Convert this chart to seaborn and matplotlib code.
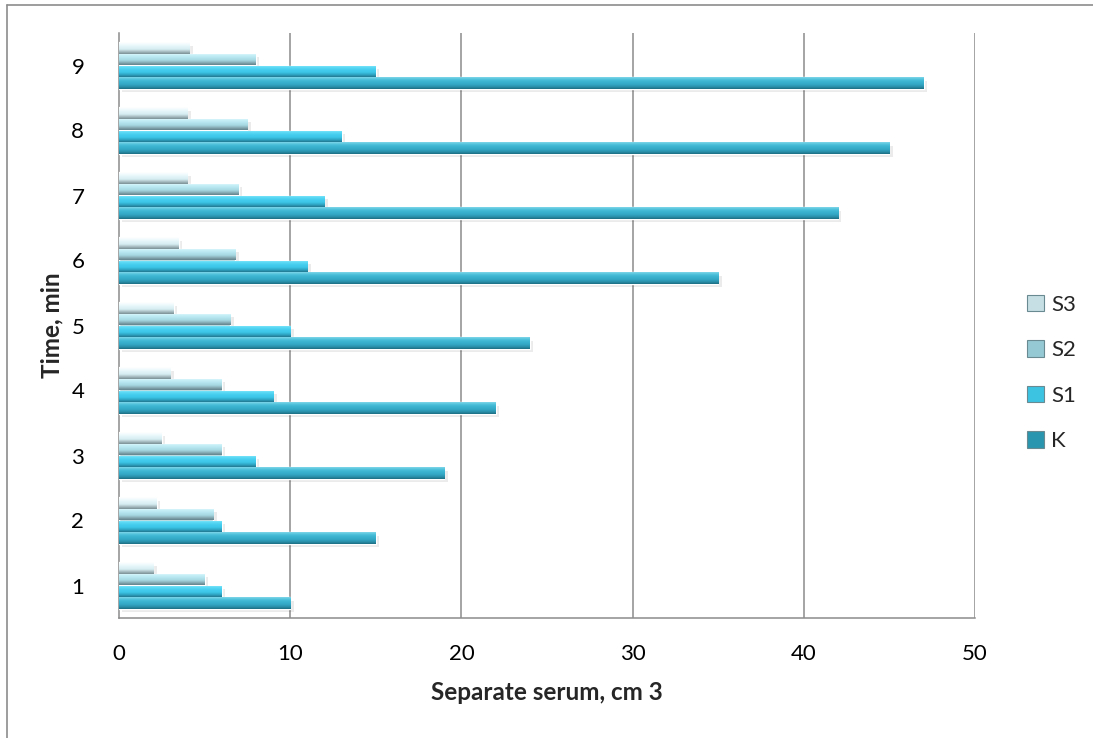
import numpy as np
import pandas as pd
import matplotlib
matplotlib.use("Agg")
import matplotlib.pyplot as plt
import matplotlib.colors as mcolors
from matplotlib.patches import Rectangle
from matplotlib.lines import Line2D
import seaborn as sns

# ---- data ----
times = ["1", "2", "3", "4", "5", "6", "7", "8", "9"]
K = [10, 15, 19, 22, 24, 35, 42, 45, 47]
S1 = [6, 6, 8, 9, 10, 11, 12, 13, 15]
S2 = [5, 5.5, 6, 6, 6.5, 6.8, 7, 7.5, 8]
S3 = [2, 2.2, 2.5, 3, 3.2, 3.5, 4, 4, 4.1]
series_names = ["S3", "S2", "S1", "K"]
x_ticks = [0, 10, 20, 30, 40, 50]

df = pd.DataFrame({"time": times, "K": K, "S1": S1, "S2": S2, "S3": S3})
long = df.melt(id_vars="time", value_vars=series_names, var_name="series", value_name="value")

# gradient stops (top -> bottom) per series
grad = {
    "K":  ["#7fd6e8", "#4cc0db", "#3ab2cf", "#34a9c6", "#2b93ad", "#1e6e82"],
    "S1": ["#8aeafc", "#5ad8f3", "#44cdee", "#3cc5e7", "#2fa6c4", "#21788f"],
    "S2": ["#e6fafd", "#c4eef6", "#b3e4ee", "#a6d8e2", "#88aeb6", "#62828a"],
    "S3": ["#ffffff", "#f0fbfd", "#e2f4f8", "#d6edf2", "#a8bec3", "#7a9095"],
}
legend_col = {"K": "#2a95ae", "S1": "#3cc3e2", "S2": "#95c9d3", "S3": "#c6dfe4"}

sns.set_style("white")
plt.rcParams["font.family"] = ["Lato", "DejaVu Sans"]

fig = plt.figure(figsize=(10.93, 7.38), dpi=100)
ax = fig.add_axes([119 / 1093, 1 - 618 / 738, (975 - 119) / 1093, (618 - 33) / 738])

order = times[::-1]
sns.barplot(data=long, y="time", x="value", hue="series", order=order,
            hue_order=series_names, orient="h", width=0.72, dodge=True,
            palette=[legend_col[s] for s in series_names], legend=False,
            saturation=1, ax=ax, zorder=3)

# cylinder-like gradient on each bar
bars = [p for p in ax.patches if isinstance(p, Rectangle)]
n_cat = len(order)
for i, p in enumerate(bars):
    s = series_names[i // n_cat]
    x0, y0 = p.get_x(), p.get_y()
    w, h = p.get_width(), p.get_height()
    if w <= 0:
        continue
    cmap = mcolors.LinearSegmentedColormap.from_list("g" + s, grad[s])
    g = np.linspace(0, 1, 64).reshape(-1, 1)
    sh = Rectangle((x0 + 0.2, y0 + h * 0.3), w, h, facecolor="#000000", alpha=0.08,
                   edgecolor="none", zorder=2.5)
    ax.add_patch(sh)
    im = ax.imshow(g, cmap=cmap, aspect="auto", extent=(x0, x0 + w, y0 + h, y0),
                   origin="upper", zorder=4, interpolation="bilinear")
    im.set_clip_path(p)

ax.set_xlim(0, 50)
ax.set_ylim(n_cat - 0.5, -0.5)

# grid & spines
ax.set_xticks(x_ticks)
ax.set_xticklabels([str(v) for v in x_ticks])
ax.grid(False)
for v in x_ticks[1:]:
    ax.axvline(v, color="#8c8c8c", lw=1.1, zorder=1)
for sp in ["top", "right"]:
    ax.spines[sp].set_visible(False)
for sp in ["left", "bottom"]:
    ax.spines[sp].set_color("#8c8c8c")
    ax.spines[sp].set_linewidth(1.1)

ax.set_yticks(range(n_cat))
ax.set_yticklabels(order)
ax.set_yticks(np.arange(-0.5, n_cat, 1.0), minor=True)
ax.tick_params(axis="y", which="major", length=0, pad=25, labelsize=16, colors="black")
ax.tick_params(axis="y", which="minor", length=7, width=1.1, color="#8c8c8c", direction="out")
ax.tick_params(axis="x", which="major", length=7, width=1.1, color="#8c8c8c", direction="out",
               pad=12, labelsize=16, labelcolor="black")

ax.set_xlabel("Separate serum, cm 3", fontsize=17.5, fontweight="bold", labelpad=12)
ax.set_ylabel("Time, min", fontsize=17.5, fontweight="bold", labelpad=6)

# legend
handles = [Rectangle((0, 0), 1, 1, facecolor=legend_col[s], edgecolor="#6a8a92", lw=0.8)
           for s in series_names]
leg = fig.legend(handles, series_names, loc="center left", bbox_to_anchor=(1027 / 1093, 1 - 373 / 738),
                 frameon=False, fontsize=16, handlelength=0.75, handleheight=0.75,
                 handletextpad=0.35, labelspacing=1.15, borderaxespad=0, borderpad=0)

# outer border
fig.add_artist(Line2D([7 / 1093, 7 / 1093], [0, 1 - 5 / 738], color="#8c8c8c", lw=1.2,
                      transform=fig.transFigure))
fig.add_artist(Line2D([7 / 1093, 1], [1 - 5 / 738, 1 - 5 / 738], color="#8c8c8c", lw=1.2,
                      transform=fig.transFigure))

fig.savefig("out.png", dpi=100)
